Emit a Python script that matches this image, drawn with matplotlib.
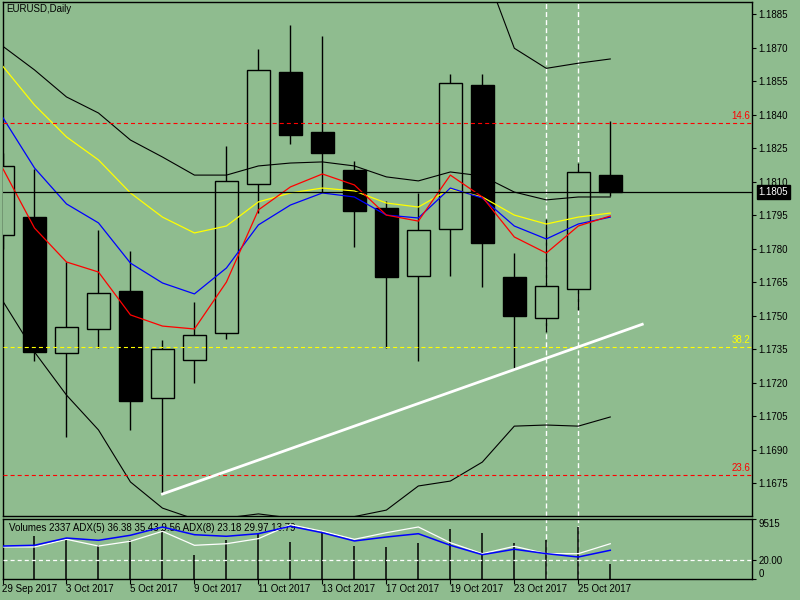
import matplotlib
matplotlib.use('Agg')
import matplotlib.pyplot as plt
from matplotlib.patches import Rectangle

plt.rcParams['font.family'] = ['Liberation Sans', 'DejaVu Sans']
plt.rcParams['font.size'] = 7
plt.rcParams['lines.scale_dashes'] = False

BG = '#8fbc8f'

# daily bars EURUSD
dates = ['29 Sep 2017', '2 Oct 2017', '3 Oct 2017', '4 Oct 2017', '5 Oct 2017',
         '6 Oct 2017', '9 Oct 2017', '10 Oct 2017', '11 Oct 2017', '12 Oct 2017',
         '13 Oct 2017', '16 Oct 2017', '17 Oct 2017', '18 Oct 2017', '19 Oct 2017',
         '20 Oct 2017', '23 Oct 2017', '24 Oct 2017', '25 Oct 2017', '26 Oct 2017']
opens = [1.17862, 1.17942, 1.17332, 1.17440, 1.17611, 1.17131, 1.17301, 1.17422, 1.18089, 1.18592,
         1.18323, 1.18153, 1.17983, 1.17680, 1.17890, 1.18532, 1.17674, 1.17489, 1.17619, 1.18130]
highs = [1.18230, 1.18157, 1.17742, 1.17884, 1.17790, 1.17392, 1.17560, 1.18260, 1.18695, 1.18802,
         1.18753, 1.18193, 1.18014, 1.18051, 1.18583, 1.18583, 1.17780, 1.17932, 1.18186, 1.18372]
lows = [1.17800, 1.17298, 1.16959, 1.17357, 1.16990, 1.16705, 1.17200, 1.17396, 1.17959, 1.18269,
        1.18056, 1.17809, 1.17357, 1.17299, 1.17678, 1.17630, 1.17257, 1.17429, 1.17526, 1.18036]
closes = [1.18171, 1.17338, 1.17448, 1.17601, 1.17120, 1.17350, 1.17413, 1.18102, 1.18599, 1.18311,
          1.18230, 1.17971, 1.17672, 1.17884, 1.18541, 1.17827, 1.17500, 1.17633, 1.18143, 1.18053]

# indicator lines
ma_black = [1.18708, 1.18601, 1.18480, 1.18408, 1.18287, 1.18211, 1.18130, 1.18130, 1.18171, 1.18184,
            1.18189, 1.18171, 1.18122, 1.18104, 1.18144, 1.18126, 1.18054, 1.18019, 1.18032, 1.18032]
ma_yellow = [1.18619, 1.18444, 1.18301, 1.18198, 1.18050, 1.17942, 1.17871, 1.17902, 1.18010, 1.18050,
             1.18072, 1.18059, 1.18005, 1.17987, 1.18068, 1.18032, 1.17951, 1.17911, 1.17942, 1.17960]
ma_blue = [1.18390, 1.18162, 1.18001, 1.17916, 1.17736, 1.17647, 1.17598, 1.17714, 1.17907, 1.17996,
           1.18050, 1.18032, 1.17951, 1.17938, 1.18072, 1.18027, 1.17902, 1.17844, 1.17911, 1.17942]
ma_red = [1.18162, 1.17893, 1.17741, 1.17696, 1.17504, 1.17454, 1.17441, 1.17651, 1.17974, 1.18077,
          1.18135, 1.18086, 1.17951, 1.17924, 1.18130, 1.18032, 1.17853, 1.17781, 1.17902, 1.17947]
bb_upper = [1.20050, 1.19900, 1.19800, 1.19720, 1.19680, 1.19620, 1.19580, 1.19550, 1.19500, 1.19450,
            1.19400, 1.19350, 1.19300, 1.19250, 1.19150, 1.19080, 1.18698, 1.18608, 1.18631, 1.18650]
bb_lower = [1.17568, 1.17338, 1.17145, 1.16989, 1.16756, 1.16639, 1.16590, 1.16595, 1.16613, 1.16595,
            1.16590, 1.16601, 1.16630, 1.16738, 1.16760, 1.16845, 1.17006, 1.17011, 1.17006, 1.17047]

fib_levels = [1.18362, 1.17359, 1.16786]
fib_labels = ['14.6', '38.2', '23.6']
fib_colors = ['#ff0000', '#ffff00', '#ff0000']

trend_x = [5, 20]
trend_y = [1.16702, 1.17462]
vlines_at = [17, 18]
last_price = 1.18053

price_ticks = [1.1675, 1.1690, 1.1705, 1.1720, 1.1735, 1.1750, 1.1765, 1.1780,
               1.1795, 1.1810, 1.1825, 1.1840, 1.1855, 1.1870, 1.1885]

# sub window
volumes = [9515, 6772, 6455, 5297, 6090, 7676, 3711, 6090, 7137, 5821,
           7565, 5186, 5028, 5710, 7930, 7248, 5710, 6090, 8200, 2337]
adx_blue = [35.5, 36.3, 44.2, 41.7, 47.2, 56.2, 47.8, 46.1, 48.9, 57.0,
            50.0, 41.0, 45.3, 48.9, 36.3, 26.1, 32.0, 27.2, 23.6, 30.9]
adx_white = [34.5, 34.5, 42.8, 35.5, 40.7, 51.5, 36.3, 38.0, 43.5, 58.7,
             51.5, 42.8, 50.0, 56.2, 39.1, 27.2, 35.2, 27.2, 27.2, 38.0]
adx_level = 20

W, H = 800, 600
fig = plt.figure(figsize=(8, 6), dpi=100, facecolor=BG)

def rect(l, t, r, b):
    return [l / W, 1 - b / H, (r - l) / W, (b - t) / H]

ax = fig.add_axes(rect(2.5, 1.7, 752.3, 516))
sub = fig.add_axes(rect(2.5, 518.7, 752.3, 578.7), sharex=ax)
for a in (ax, sub):
    a.set_facecolor(BG)
    for s in a.spines.values():
        s.set_color('black')
        s.set_linewidth(1)

xs = list(range(len(dates)))
bw = 0.71

# candles
for i in xs:
    o, h, l, c = opens[i], highs[i], lows[i], closes[i]
    ax.vlines(i, l, h, color='black', lw=1, zorder=2)
    fc = 'black' if c < o else BG
    ax.add_patch(Rectangle((i - bw / 2, min(o, c)), bw, abs(c - o),
                           facecolor=fc, edgecolor='black', lw=1, zorder=3))

for v in vlines_at:
    ax.axvline(v, color='white', lw=1, dashes=(3.6, 2.2), zorder=1)
    sub.axvline(v, color='white', lw=1, dashes=(3.6, 2.2), zorder=1)

ax.plot(xs, bb_upper, color='black', lw=0.8, zorder=4)
ax.plot(xs, bb_lower, color='black', lw=0.8, zorder=4)
ax.plot(xs, ma_black, color='black', lw=0.8, zorder=4)
ax.plot(xs, ma_yellow, color='#ffff00', lw=0.9, zorder=4)
ax.plot(xs, ma_blue, color='#0000ff', lw=0.9, zorder=4)
ax.plot(xs, ma_red, color='#ff0000', lw=0.9, zorder=4)

for lvl, lbl, col in zip(fib_levels, fib_labels, fib_colors):
    ax.axhline(lvl, color=col, lw=0.8, dashes=(2.9, 2.2), zorder=4)
    ax.annotate(lbl, xy=(0.997, lvl), xycoords=('axes fraction', 'data'),
                xytext=(0, 1.5), textcoords='offset points',
                ha='right', va='bottom', color=col)

ax.plot(trend_x, trend_y, color='white', lw=2, zorder=6)
ax.axhline(last_price, color='black', lw=0.9, zorder=5)
ax.annotate('%.4f' % last_price, xy=(1.0, last_price), xycoords=('axes fraction', 'data'),
            xytext=(4.5, 0), textcoords='offset points', ha='left', va='center',
            color='white', annotation_clip=False,
            bbox=dict(boxstyle='square,pad=0.2', fc='black', ec='black'))

ax.set_xlim(0.006, 23.44)
ax.set_ylim(1.166036, 1.189064)
ax.yaxis.tick_right()
ax.set_yticks(price_ticks)
ax.set_yticklabels(['%.4f' % t for t in price_ticks])
ax.tick_params(axis='y', direction='out', length=2.7, width=0.8, pad=1.7, colors='black')
ax.tick_params(axis='x', bottom=False, labelbottom=False)

fig.text(6.7 / W, 1 - 9.5 / H, 'EURUSD,Daily', ha='left', va='center')

# volumes + ADX
adx = sub.twinx()

sub.vlines(xs, 0, volumes, color='black', lw=1.1, zorder=2)
sub.set_ylim(0, 9515)
sub.yaxis.tick_right()
sub.set_yticks([0, 9515])
sub.set_yticklabels(['0', '9515'])
sub.tick_params(axis='y', direction='out', length=2.7, width=0.8, pad=1.7,
                left=False, labelleft=False, right=True, labelright=True)
labs = sub.get_yticklabels(which='major')
labs[0].set_va('bottom')
labs[1].set_va('top')
sub.set_xticks(xs[::2])
sub.set_xticklabels([d for d in dates[::2]], ha='left')
sub.tick_params(axis='x', direction='out', length=3.6, width=0.8, pad=0.5)
sub.text(6.7 / 749.8, 0.85, 'Volumes 2337 ADX(5) 36.38 35.43 9.56 ADX(8) 23.18 29.97 13.79',
         transform=sub.transAxes, ha='left', va='center', zorder=1)

adx.set_ylim(0, 65.2)
adx.plot(xs, adx_white, color='white', lw=0.9, zorder=3)
adx.plot(xs, adx_blue, color='#0000ff', lw=1.1, zorder=3)
adx.axhline(adx_level, color='white', lw=0.9, dashes=(2.9, 2.2), zorder=4)
adx.set_yticks([adx_level])
adx.set_yticklabels(['%.2f' % adx_level])
adx.tick_params(axis='y', direction='out', length=2.7, width=0.8, pad=1.7)
for s in adx.spines.values():
    s.set_visible(False)

fig.savefig('out.png', dpi=100, facecolor=BG)
